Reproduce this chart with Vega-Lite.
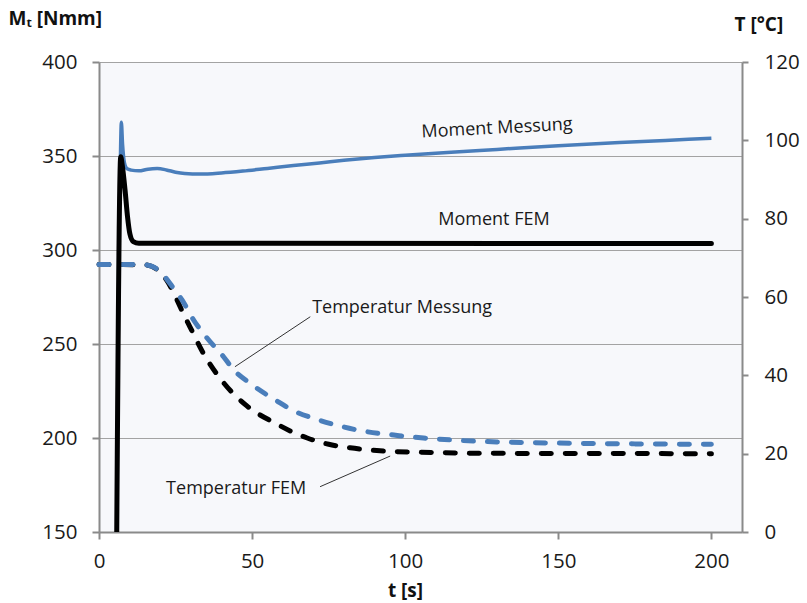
{
  "$schema": "https://vega.github.io/schema/vega-lite/v6.json",
  "width": 643,
  "height": 470,
  "autosize": {"type": "none"},
  "padding": {"left": 99, "top": 62, "right": 65, "bottom": 71},
  "background": "white",
  "config": {
    "view": {"fill": "#f7f8fb", "stroke": null},
    "font": "Open Sans",
    "axis": {
      "domainColor": "#8a8a8a",
      "domainWidth": 2,
      "tickColor": "#8a8a8a",
      "tickWidth": 2,
      "tickSize": 7,
      "labelFont": "Open Sans",
      "labelFontSize": 20.5,
      "labelColor": "#1a1a1a",
      "labelFlush": false,
      "titleFont": "Open Sans",
      "titleColor": "#111111",
      "titleFontWeight": "bold",
      "titleFontSize": 19,
      "gridColor": "#a3a3a3",
      "gridWidth": 1.2,
      "gridOpacity": 1
    }
  },
  "datasets": {
    "mMess": [
      {"t": 7.0, "Mt": 349}, {"t": 7.3, "Mt": 368}, {"t": 7.7, "Mt": 356}, {"t": 8.3, "Mt": 346.5},
      {"t": 9.2, "Mt": 343.2}, {"t": 10.5, "Mt": 342.5}, {"t": 13, "Mt": 342.1}, {"t": 16, "Mt": 343.0},
      {"t": 19, "Mt": 343.3}, {"t": 22, "Mt": 342.6}, {"t": 25, "Mt": 341.4}, {"t": 28, "Mt": 340.7},
      {"t": 33, "Mt": 340.4}, {"t": 40, "Mt": 341}, {"t": 47, "Mt": 342}, {"t": 55, "Mt": 343.4},
      {"t": 63.5, "Mt": 344.9}, {"t": 72, "Mt": 346.3}, {"t": 80, "Mt": 347.7}, {"t": 90, "Mt": 349.2},
      {"t": 100, "Mt": 350.4}, {"t": 115, "Mt": 352}, {"t": 130, "Mt": 353.5}, {"t": 150, "Mt": 355.5},
      {"t": 170, "Mt": 357.2}, {"t": 185, "Mt": 358.3}, {"t": 200, "Mt": 359.4}
    ],
    "mFem": [
      {"t": 5.75, "Mt": 140}, {"t": 7.1, "Mt": 349.6}, {"t": 7.6, "Mt": 345}, {"t": 8.5, "Mt": 332},
      {"t": 9.3, "Mt": 318}, {"t": 10.1, "Mt": 308.5}, {"t": 11.2, "Mt": 304.5}, {"t": 13, "Mt": 303.6},
      {"t": 200, "Mt": 303.4}
    ],
    "tMess": [
      {"t": 0, "T": 68.3}, {"t": 10, "T": 68.3}, {"t": 15, "T": 68.2}, {"t": 18, "T": 67.6},
      {"t": 21, "T": 65.6}, {"t": 24, "T": 62.6}, {"t": 27, "T": 59.4}, {"t": 31, "T": 54},
      {"t": 35, "T": 49.8}, {"t": 40.6, "T": 44.8}, {"t": 44, "T": 41.4}, {"t": 49.3, "T": 38},
      {"t": 58, "T": 33.5}, {"t": 64, "T": 30.8}, {"t": 71, "T": 28.8}, {"t": 84, "T": 26.1},
      {"t": 98, "T": 24.6}, {"t": 106, "T": 24}, {"t": 115, "T": 23.5}, {"t": 130, "T": 23},
      {"t": 150, "T": 22.7}, {"t": 175, "T": 22.5}, {"t": 200, "T": 22.4}
    ],
    "tFem": [
      {"t": 0, "T": 68.3}, {"t": 15, "T": 68.2}, {"t": 19, "T": 67}, {"t": 22.1, "T": 64.3},
      {"t": 25.4, "T": 59.4}, {"t": 27.5, "T": 55.8}, {"t": 29.7, "T": 52.4}, {"t": 34.1, "T": 45.6},
      {"t": 40.6, "T": 38.2}, {"t": 48.3, "T": 32.2}, {"t": 58, "T": 27.6}, {"t": 63, "T": 25.6},
      {"t": 68, "T": 24}, {"t": 75, "T": 22.4}, {"t": 82, "T": 21.5}, {"t": 95, "T": 20.6},
      {"t": 110, "T": 20.3}, {"t": 125, "T": 20.1}, {"t": 200, "T": 20}
    ],
    "labels": [
      {"t": 130, "Mt": 364.6, "text": "Moment Messung", "angle": -3},
      {"t": 129, "Mt": 316, "text": "Moment FEM", "angle": 0},
      {"t": 99, "Mt": 269.2, "text": "Temperatur Messung", "angle": 0},
      {"t": 44.8, "Mt": 173, "text": "Temperatur FEM", "angle": 0}
    ],
    "leaders": [
      {"t": 69, "Mt": 264.5, "t2": 44.4, "Mt2": 237.9},
      {"t": 72.2, "Mt": 174.1, "t2": 95.1, "Mt2": 190.4}
    ]
  },
  "layer": [
    {
      "encoding": {
        "x": {"field": "t", "type": "quantitative",
          "scale": {"domain": [0, 210], "nice": false, "zero": false},
          "axis": {"values": [0, 50, 100, 150, 200], "title": "t [s]", "grid": false,
            "labelPadding": 12, "titleX": 306, "titleY": 64, "titleAlign": "center", "titleBaseline": "alphabetic"}},
        "y": {"field": "T", "type": "quantitative",
          "scale": {"domain": [0, 120], "nice": false, "zero": false},
          "axis": {"orient": "right", "values": [0, 20, 40, 60, 80, 100, 120], "grid": false,
            "title": "T [°C]", "titleAngle": 0, "titleAlign": "left", "titleBaseline": "alphabetic",
            "titleX": -8, "titleY": -32, "labelPadding": 16, "tickSize": 6}}
      },
      "layer": [
        {"data": {"name": "tFem"},
         "mark": {"type": "line", "color": "#000000", "strokeWidth": 5, "strokeDash": [10, 14], "strokeCap": "round", "interpolate": "monotone"}},
        {"data": {"name": "tMess"},
         "mark": {"type": "line", "color": "#4a7ebb", "strokeWidth": 5, "strokeDash": [10, 14], "strokeCap": "round", "interpolate": "monotone"}}
      ]
    },
    {
      "encoding": {
        "x": {"field": "t", "type": "quantitative"},
        "y": {"field": "Mt", "type": "quantitative",
          "scale": {"domain": [150, 400], "nice": false, "zero": false},
          "axis": {"orient": "left", "values": [150, 200, 250, 300, 350, 400], "grid": true,
            "title": "Mₜ [Nmm]", "titleAngle": 0, "titleAlign": "left", "titleBaseline": "alphabetic",
            "titleX": -91, "titleY": -38, "labelPadding": 15}}
      },
      "layer": [
        {"data": {"name": "mMess"},
         "mark": {"type": "line", "color": "#4a7ebb", "strokeWidth": 3.5, "interpolate": "monotone", "clip": true}},
        {"data": {"name": "mFem"},
         "mark": {"type": "line", "color": "#000000", "strokeWidth": 5, "strokeCap": "round", "interpolate": "monotone", "clip": true}},
        {"data": {"name": "leaders"},
         "mark": {"type": "rule", "color": "#333333", "strokeWidth": 1},
         "encoding": {
           "x2": {"field": "t2"},
           "y2": {"field": "Mt2"}
         }},
        {"data": {"name": "labels"},
         "mark": {"type": "text", "font": "Open Sans", "fontSize": 18, "color": "#1a1a1a", "align": "center", "baseline": "middle"},
         "encoding": {
           "text": {"field": "text"},
           "angle": {"field": "angle", "type": "quantitative", "scale": null}
         }}
      ]
    }
  ],
  "resolve": {"scale": {"y": "independent"}}
}
